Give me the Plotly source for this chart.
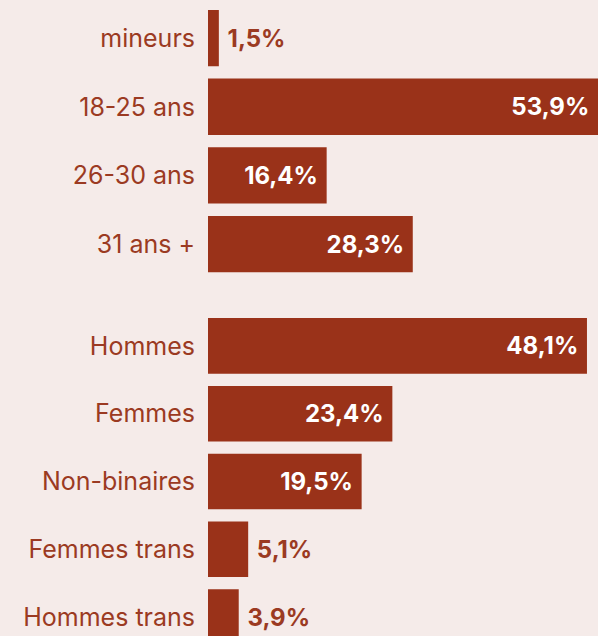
import plotly.graph_objects as go
from plotly.subplots import make_subplots

age_labels = ["mineurs", "18-25 ans", "26-30 ans", "31 ans +"]
age_values = [1.5, 53.9, 16.4, 28.3]
gender_labels = ["Hommes", "Femmes", "Non-binaires", "Femmes trans", "Hommes trans"]
gender_values = [48.1, 23.4, 19.5, 5.1, 3.9]

BAR = "#9a3219"
TXT = "#9b3a22"
BG = "#f5ebe9"
FONT = "Inter"
NB = "\u00a0"


def fmt(v):
    s = f"{v:.1f}".replace(".", ",") + "%"
    return s + NB if v > 10 else NB + s


def positions(vals):
    return ["inside" if v > 10 else "outside" for v in vals]


fig = make_subplots(rows=2, cols=1, vertical_spacing=0.0)

for i, (labels, vals) in enumerate([(age_labels, age_values), (gender_labels, gender_values)], start=1):
    fig.add_trace(go.Bar(
        x=vals, y=labels, orientation="h",
        marker=dict(color=BAR, line=dict(width=0)),
        width=0.82,
        text=[fmt(v) for v in vals],
        textposition=positions(vals),
        insidetextanchor="end",
        insidetextfont=dict(color="white", family=FONT, size=24, weight=700),
        outsidetextfont=dict(color=TXT, family=FONT, size=24, weight=700),
        textangle=0,
        constraintext="none",
        cliponaxis=False,
        hoverinfo="skip",
        showlegend=False,
    ), row=i, col=1)

H = 636
fig.update_layout(
    width=598, height=H,
    margin=dict(l=208, r=0, t=0, b=0),
    paper_bgcolor=BG, plot_bgcolor=BG,
    font=dict(family=FONT, color=TXT, size=25),
    uniformtext=dict(mode=False),
)

fig.update_xaxes(visible=False, showgrid=False, zeroline=False)
fig.update_xaxes(range=[0, 53.9], row=1, col=1)
fig.update_xaxes(range=[0, 49.5], row=2, col=1)

fig.update_yaxes(showgrid=False, zeroline=False, showline=False, ticks="",
                 tickfont=dict(family=FONT, size=25, color=TXT), ticklabelstandoff=12,
                 type="category")
fig.update_yaxes(domain=[1 - 278.5 / H, 1 - 3.7 / H], range=[3.5, -0.5], row=1, col=1)
fig.update_yaxes(domain=[0, 1 - 312 / H], range=[4.28, -0.5], row=2, col=1)

fig.write_html(
    "out.html",
    config={"displayModeBar": False},
    post_script="document.body.style.margin='0';document.body.style.background='%s';" % BG,
)
